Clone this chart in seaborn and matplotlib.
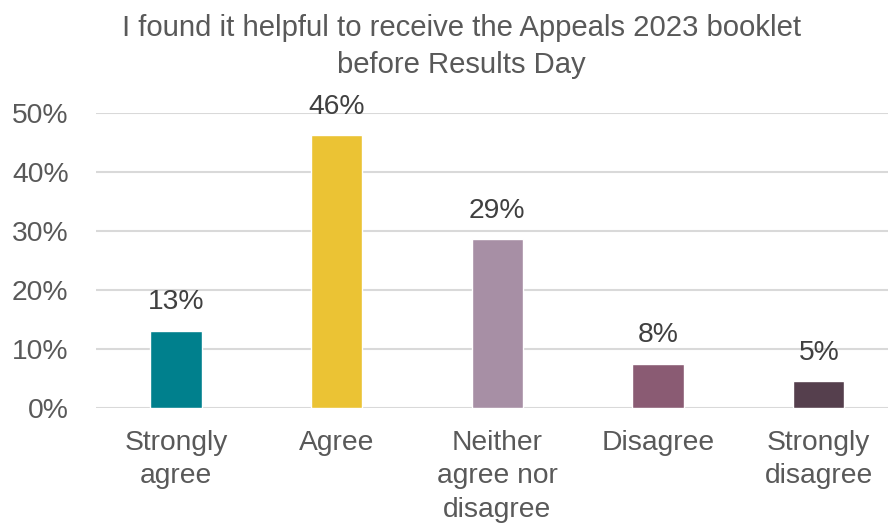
import matplotlib
matplotlib.use("Agg")
import matplotlib.pyplot as plt
import seaborn as sns
import pandas as pd
from matplotlib.ticker import PercentFormatter, MultipleLocator

categories = ["Strongly\nagree", "Agree", "Neither\nagree nor\ndisagree", "Disagree", "Strongly\ndisagree"]
shares = [13.1, 46.3, 28.6, 7.5, 4.6]
colors = ["#00808D", "#EBC334", "#A78FA5", "#8A5B73", "#553F4D"]
title = "I found it helpful to receive the Appeals 2023 booklet\nbefore Results Day"

df = pd.DataFrame({"category": categories, "share": shares})

sns.set_theme(style="white")
plt.rcParams["font.family"] = ["Liberation Sans", "DejaVu Sans"]

W, H = 888, 525
fig = plt.figure(figsize=(W / 100, H / 100), dpi=100)
left, right = 95.6, 888
bottom, top = 408, 113
ax = fig.add_axes([left / W, 1 - bottom / H, (right - left) / W, (bottom - top) / H])

sns.barplot(data=df, x="category", y="share", hue="category", palette=colors,
            legend=False, width=0.32, ax=ax, saturation=1)

step = 160.7
ax.set_xlim(-0.5, (right - left) / step - 0.5)
ax.set_ylim(0, 50)
ax.yaxis.set_major_locator(MultipleLocator(10))
ax.yaxis.set_major_formatter(PercentFormatter(decimals=0))
ax.grid(axis="y", color="#D9D9D9", linewidth=1.5)
ax.set_axisbelow(True)
for s in ax.spines.values():
    s.set_visible(False)

fs = 20.3
ax.set_xlabel("")
ax.set_ylabel("")
ax.tick_params(axis="both", length=0, labelsize=fs, colors="#595959")
ax.tick_params(axis="y", pad=19.5)
ax.tick_params(axis="x", pad=15.5)
for lbl in ax.get_xticklabels():
    lbl.set_linespacing(1.38)

for i, v in enumerate(shares):
    ax.annotate(f"{int(v + 0.5)}%", (i, v), xytext=(0, 11), textcoords="offset points",
                ha="center", va="bottom", fontsize=fs, color="#404040")

fig.text(0.52, 1 - 14 / H, title, ha="center", va="top", fontsize=21.1,
         color="#595959", linespacing=1.42)

fig.savefig("out.png", dpi=100)
